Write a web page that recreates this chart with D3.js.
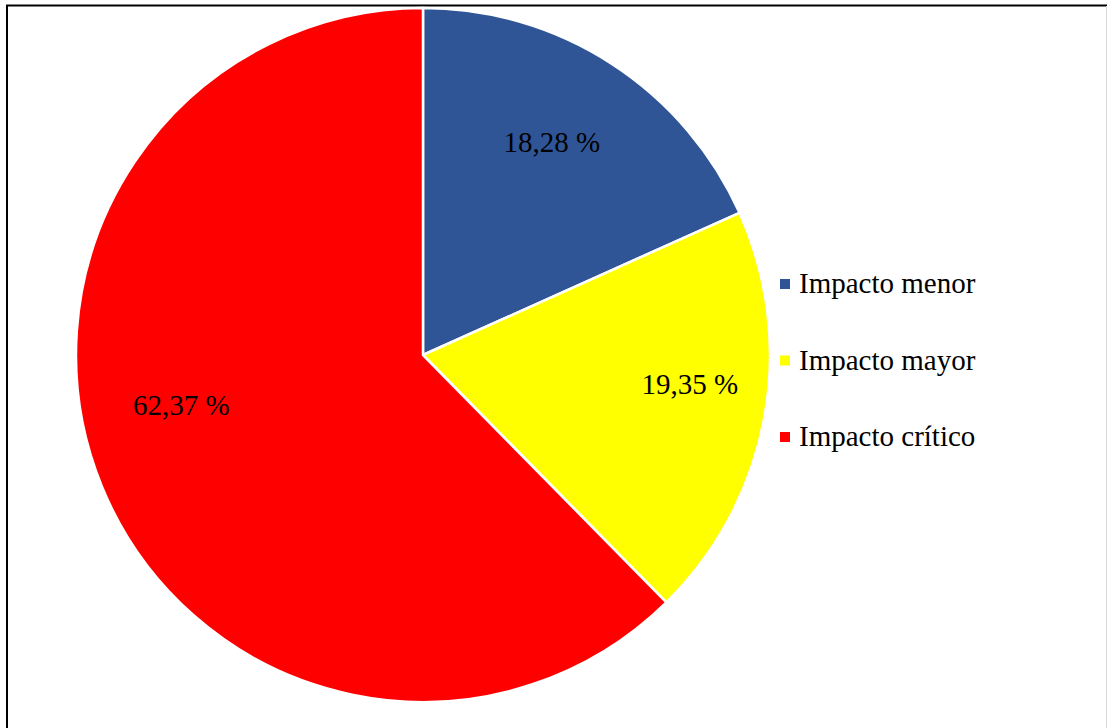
<!DOCTYPE html>
<html>
<head>
<meta charset="utf-8">
<script src="https://cdn.jsdelivr.net/npm/d3@7"></script>
<style>
  html, body { margin: 0; padding: 0; background: #fff; }
  svg { display: block; }
</style>
</head>
<body>
<svg id="chart" width="1107" height="728"></svg>
<script>
// Distribution of impact levels
const categories = ["Impacto menor", "Impacto mayor", "Impacto crítico"];
const values = [18.28, 19.35, 62.37];
const valueLabels = ["18,28 %", "19,35 %", "62,37 %"];
const colors = ["#2F5597", "#FFFF00", "#FF0000"];

const svg = d3.select("#chart");
const W = 1107, H = 728;

// outer frame
svg.append("rect")
  .attr("x", 7).attr("y", 5.5)
  .attr("width", W + 20).attr("height", H + 20)
  .attr("fill", "none")
  .attr("stroke", "#000")
  .attr("stroke-width", 2);
svg.append("line")
  .attr("x1", 1106.5).attr("x2", 1106.5)
  .attr("y1", 6).attr("y2", H)
  .attr("stroke", "#d9d9d9").attr("stroke-width", 1);

const cx = 423, cy = 355, R = 347;
const g = svg.append("g").attr("transform", `translate(${cx},${cy})`);

const pie = d3.pie().sort(null).value(d => d)(values);
const arc = d3.arc().innerRadius(0).outerRadius(R);
const labelArc = d3.arc().innerRadius(R * 0.715).outerRadius(R * 0.715);

g.selectAll("path.slice")
  .data(pie)
  .join("path")
  .attr("class", "slice")
  .attr("d", arc)
  .attr("fill", (d, i) => colors[i])
  .attr("stroke", "#fff")
  .attr("stroke-width", 2.5)
  .attr("stroke-linejoin", "round");

// fine placement of the value labels inside their slices
const labelShift = [[-6, -4], [23, -16], [-12, -44]];

g.selectAll("text.val")
  .data(pie)
  .join("text")
  .attr("class", "val")
  .attr("transform", (d, i) => {
    const c = labelArc.centroid(d);
    return `translate(${c[0] + labelShift[i][0]},${c[1] + labelShift[i][1]})`;
  })
  .attr("text-anchor", "middle")
  .attr("dy", "0.33em")
  .attr("font-family", "'Liberation Serif', 'Times New Roman', serif")
  .attr("font-size", 29)
  .attr("fill", "#000")
  .text((d, i) => valueLabels[i]);

// legend
const legend = svg.append("g").attr("transform", "translate(780,293)");
const item = legend.selectAll("g.item")
  .data(categories)
  .join("g")
  .attr("class", "item")
  .attr("transform", (d, i) => `translate(0,${i * 76.5})`);
item.append("rect")
  .attr("x", 0).attr("y", -14)
  .attr("width", 10).attr("height", 10)
  .attr("fill", (d, i) => colors[i]);
item.append("text")
  .attr("x", 19).attr("y", 0)
  .attr("font-family", "'Liberation Serif', 'Times New Roman', serif")
  .attr("font-size", 29)
  .attr("fill", "#000")
  .text(d => d);
</script>
</body>
</html>
